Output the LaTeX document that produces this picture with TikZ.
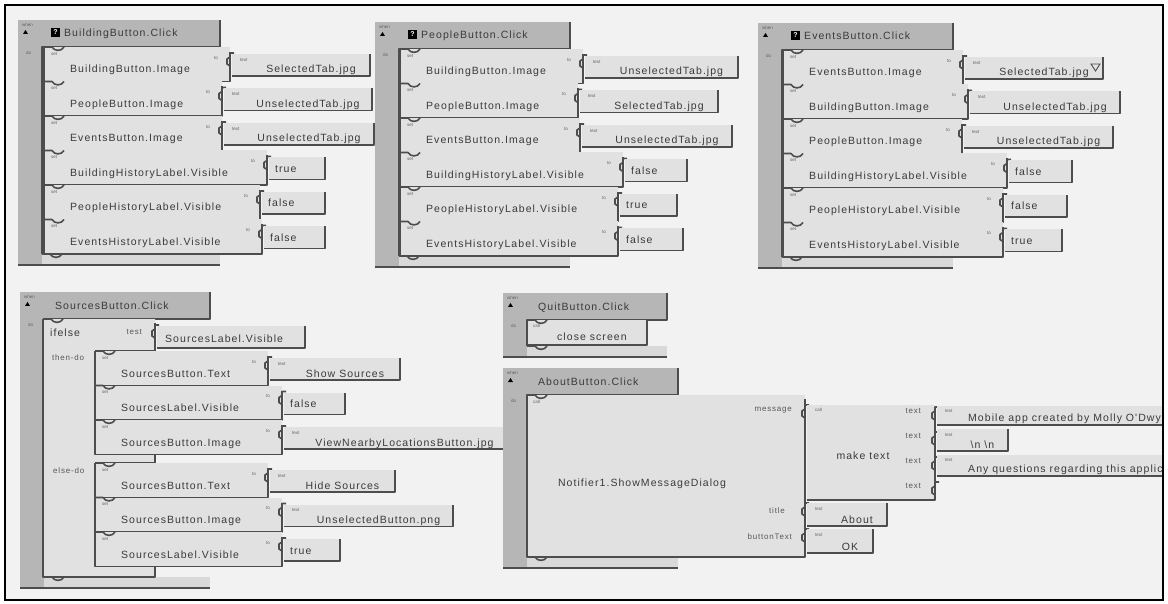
\documentclass[tikz,border=0pt]{standalone}
\usepackage{fontspec}
\setmainfont{Liberation Sans}
\newfontfamily\blockfont[LetterSpace=10]{Liberation Sans}
\definecolor{canvas}{HTML}{F2F2F2}
\definecolor{blockgrey}{HTML}{E1E1E1}
\definecolor{eventgrey}{HTML}{B6B6B6}
\definecolor{armgrey}{HTML}{D9D9D9}
\definecolor{edgegrey}{HTML}{4D4D4D}
\definecolor{inkgrey}{HTML}{3A3A3A}
\tikzset{
  lbl/.style={font=\blockfont\fontsize{10.5}{12}\selectfont,text=inkgrey,inner sep=0pt},
  small/.style={font=\blockfont\fontsize{8}{9}\selectfont,text=inkgrey!85,inner sep=0pt},
  tiny/.style={font=\fontsize{4.5}{5}\selectfont,text=inkgrey!80,inner sep=0pt},
  edge/.style={draw=edgegrey,line width=1.6pt,line join=round},
  rim/.style={draw=edgegrey,line width=2.4pt},
}
% socket bracket: x, top
\newcommand{\socket}[2]{%
  \draw[edge] ({#1+4},{#2}) -- ({#1},{#2}) -- ({#1},{#2+4}) -- ({#1-3},{#2+6})
    -- ({#1-3},{#2+11}) -- ({#1},{#2+13});}
% event block: name, x0, y0, x1, bottom, title, title offset
\newcommand{\eventblock}[7]{%
  \fill[eventgrey] ({#2},{#3}) rectangle ({#4},{#3+27});
  \fill[eventgrey] ({#2},{#3}) rectangle ({#2+24},{#5});
  \fill[armgrey] ({#2+24},{#5-11}) rectangle ({#4},{#5});
  \draw[edge] ({#4},{#3}) -- ({#4},{#3+27}) -- ({#2+24},{#3+27}) -- ({#2+24},{#5-11});
  \draw[edge] ({#2+24},{#5-11}) -- ({#2+32},{#5-11})
    .. controls ({#2+34},{#5-6.5}) and ({#2+42},{#5-6.5}) .. ({#2+44},{#5-11});
  \draw[rim] ({#2},{#5}) -- ({#4},{#5});
  \fill[black] ({#2+5},{#3+14}) -- ({#2+10},{#3+14}) -- ({#2+7.5},{#3+10}) -- cycle;
  \node[tiny,anchor=west] (#1-when) at ({#2+4},{#3+5}) {when};
  \node[tiny,anchor=west] (#1-do) at ({#2+8},{#3+33}) {do};
  \node[lbl,anchor=base west] (#1) at ({#2+#7},{#3+17}) {#6};}
% question icon: name, x0, y0
\newcommand{\qicon}[3]{%
  \fill[black] ({#2+33},{#3+8}) rectangle ({#2+42},{#3+17});
  \node[font=\bfseries\fontsize{7}{7}\selectfont,text=white,inner sep=0pt] (#1) at ({#2+37.5},{#3+12.5}) {?};}
% set statement: name, x, top, right, property
\newcommand{\setblock}[5]{%
  \fill[blockgrey] ({#2},{#3}) rectangle ({#4},{#3+34.5});
  \draw[edge] ({#2},{#3}) -- ({#2+8},{#3})
    .. controls ({#2+10},{#3+4.5}) and ({#2+18},{#3+4.5}) .. ({#2+20},{#3});
  \draw[edge] ({#2},{#3}) -- ({#2},{#3+34.5}) -- ({#4},{#3+34.5}) -- ({#4},{#3+5});
  \socket{#4}{#3+6}
  \node[tiny,anchor=west] (#1-set) at ({#2+7},{#3+7}) {set};
  \node[tiny,anchor=east] (#1-to) at ({#4-12},{#3+11}) {to};
  \node[lbl,anchor=base west] (#1) at ({#2+26},{#3+26}) {#5};}
% text value: name, x, top, right, bottom, text
\newcommand{\textval}[6]{%
  \fill[blockgrey] ({#2},{#3}) rectangle ({#4},{#5});
  \draw[edge] ({#2},{#5}) -- ({#4},{#5}) -- ({#4},{#3});
  \node[tiny,anchor=west] (#1-kw) at ({#2+8},{#3+6}) {text};
  \node[lbl,anchor=base] (#1) at ({(#2+#4+20)/2},{#5-3}) {#6};}
% logic value: name, x, top, right, bottom, text
\newcommand{\boolval}[6]{%
  \fill[blockgrey] ({#2},{#3}) rectangle ({#4},{#5});
  \draw[edge] ({#2},{#5}) -- ({#4},{#5}) -- ({#4},{#3});
  \node[lbl,anchor=base west] (#1) at ({#2+6},{(#3+#5)/2+4}) {#6};}

\begin{document}
\begin{tikzpicture}[x=1pt,y=-1pt]
\useasboundingbox (0,0) rectangle (1168,604);
\fill[white] (0,0) rectangle (1168,604);
\fill[canvas] (5,5) rectangle (1163,600);
\begin{scope}
\clip (5,5) rectangle (1163,600);
% BuildingButton.Click
\eventblock{bbclick}{18}{20}{220}{265}{BuildingButton.Click}{46}
\qicon{bbicon}{18}{20}
\setblock{bbset1}{44}{47}{230}{BuildingButton.Image}
\textval{bbval1}{232}{54}{370}{76}{SelectedTab.jpg}
\setblock{bbset2}{44}{81.5}{222}{PeopleButton.Image}
\textval{bbval2}{224}{88.5}{372}{110.5}{UnselectedTab.jpg}
\setblock{bbset3}{44}{116}{222}{EventsButton.Image}
\textval{bbval3}{224}{123}{374}{145}{UnselectedTab.jpg}
\setblock{bbset4}{44}{150.5}{267}{BuildingHistoryLabel.Visible}
\boolval{bbval4}{269}{157.5}{325}{179.5}{true}
\setblock{bbset5}{44}{185}{260}{PeopleHistoryLabel.Visible}
\boolval{bbval5}{262}{192}{325}{214}{false}
\setblock{bbset6}{44}{219.5}{262}{EventsHistoryLabel.Visible}
\boolval{bbval6}{264}{226.5}{325}{248.5}{false}
% PeopleButton.Click
\eventblock{pbclick}{375}{22}{570}{267}{PeopleButton.Click}{46}
\qicon{pbicon}{375}{22}
\setblock{pbset1}{400}{49}{583}{BuildingButton.Image}
\textval{pbval1}{585}{56}{738}{78}{UnselectedTab.jpg}
\setblock{pbset2}{400}{83.5}{578}{PeopleButton.Image}
\textval{pbval2}{580}{90.5}{718}{112.5}{SelectedTab.jpg}
\setblock{pbset3}{400}{118}{580}{EventsButton.Image}
\textval{pbval3}{582}{125}{732}{147}{UnselectedTab.jpg}
\setblock{pbset4}{400}{152.5}{623}{BuildingHistoryLabel.Visible}
\boolval{pbval4}{625}{159.5}{687}{181.5}{false}
\setblock{pbset5}{400}{187}{618}{PeopleHistoryLabel.Visible}
\boolval{pbval5}{620}{194}{677}{216}{true}
\setblock{pbset6}{400}{221.5}{618}{EventsHistoryLabel.Visible}
\boolval{pbval6}{620}{228.5}{683}{250.5}{false}
% EventsButton.Click
\eventblock{ebclick}{758}{23}{953}{268}{EventsButton.Click}{46}
\qicon{ebicon}{758}{23}
\setblock{ebset1}{783}{50}{963}{EventsButton.Image}
\textval{ebval1}{965}{57}{1103}{79}{SelectedTab.jpg}
\draw[edgegrey,line width=.9pt] (1091,64) -- (1100,64) -- (1095.5,71) -- cycle;
\setblock{ebset2}{783}{84.5}{968}{BuildingButton.Image}
\textval{ebval2}{970}{91.5}{1120}{113.5}{UnselectedTab.jpg}
\setblock{ebset3}{783}{119}{962}{PeopleButton.Image}
\textval{ebval3}{964}{126}{1113}{148}{UnselectedTab.jpg}
\setblock{ebset4}{783}{153.5}{1007}{BuildingHistoryLabel.Visible}
\boolval{ebval4}{1009}{160.5}{1072}{182.5}{false}
\setblock{ebset5}{783}{188}{1003}{PeopleHistoryLabel.Visible}
\boolval{ebval5}{1005}{195}{1067}{217}{false}
\setblock{ebset6}{783}{222.5}{1003}{EventsHistoryLabel.Visible}
\boolval{ebval6}{1005}{229.5}{1062}{251.5}{true}
% SourcesButton.Click
\eventblock{sbclick}{20}{292}{210}{588}{SourcesButton.Click}{35}
\fill[blockgrey] (43,319) -- (155,319) -- (155,351) -- (95,351) -- (95,454.5) -- (155,454.5)
  -- (155,463) -- (95,463) -- (95,566.5) -- (155,566.5) -- (155,577) -- (43,577) -- cycle;
\draw[edge] (43,319) -- (51,319) .. controls (53,323.5) and (61,323.5) .. (63,319);
\draw[edge] (43,319) -- (43,577) -- (155,577) -- (155,566.5);
\draw[edge] (155,454.5) -- (155,463) -- (95,463);
\draw[edge] (95,351) -- (155,351) -- (155,323);
\socket{155}{325}
\node[lbl,anchor=base west] (ifelse) at (50,337) {ifelse};
\node[small,anchor=east] (iftest) at (142,332) {test};
\node[small,anchor=west] (thendo) at (52,358) {then-do};
\node[small,anchor=west] (elsedo) at (53,471) {else-do};
\fill[blockgrey] (157,326) rectangle (305,348);
\draw[edge] (157,348) -- (305,348) -- (305,326);
\node[lbl,anchor=base west] (srcget) at (165,342) {SourcesLabel.Visible};
\setblock{thenset1}{95}{351}{268}{SourcesButton.Text}
\textval{thenval1}{270}{358}{400}{380}{Show Sources}
\setblock{thenset2}{95}{385.5}{282}{SourcesLabel.Visible}
\boolval{thenval2}{284}{392.5}{345}{414.5}{false}
\setblock{thenset3}{95}{420}{282}{SourcesButton.Image}
\textval{thenval3}{284}{427}{505}{449}{ViewNearbyLocationsButton.jpg}
\setblock{elseset1}{95}{463}{268}{SourcesButton.Text}
\textval{elseval1}{270}{470}{395}{492}{Hide Sources}
\setblock{elseset2}{95}{497.5}{282}{SourcesButton.Image}
\textval{elseval2}{284}{504.5}{453}{526.5}{UnselectedButton.png}
\setblock{elseset3}{95}{532}{282}{SourcesLabel.Visible}
\boolval{elseval3}{284}{539}{340}{561}{true}
% QuitButton.Click
\eventblock{qbclick}{503}{293}{667}{357}{QuitButton.Click}{35}
\fill[blockgrey] (527,320) rectangle (647,345);
\draw[edge] (527,320) -- (535,320) .. controls (537,324.5) and (545,324.5) .. (547,320);
\draw[edge] (527,320) -- (527,345) -- (647,345) -- (647,320);
\node[tiny,anchor=west] (closecall) at (533,326) {call};
\node[lbl,anchor=base west] (closescreen) at (557,340) {close screen};
% AboutButton.Click
\eventblock{abclick}{503}{368}{678}{568}{AboutButton.Click}{35}
\fill[blockgrey] (527,395) rectangle (805,557);
\draw[edge] (527,395) -- (535,395) .. controls (537,399.5) and (545,399.5) .. (547,395);
\draw[edge] (527,395) -- (527,557) -- (805,557) -- (805,399);
\socket{805}{405}
\socket{805}{503}
\socket{805}{529}
\node[tiny,anchor=west] (notcall) at (533,402) {call};
\node[lbl,anchor=base] (notifier) at (642,486) {Notifier1.ShowMessageDialog};
\node[small,anchor=east] (msglbl) at (792,410) {message};
\node[small,anchor=east] (titlelbl) at (785,511) {title};
\node[small,anchor=east] (btnlbl) at (792,537) {buttonText};
% make text
\fill[blockgrey] (807,405) rectangle (935,500);
\draw[edge] (807,500) -- (935,500) -- (935,409);
\foreach \ty/\tn in {406/mtone,431/mttwo,456/mtthree,481/mtfour} {
  \socket{935}{\ty+1}
  \node[small,anchor=east] (\tn) at (921,\ty+5) {text};
}
\node[tiny,anchor=west] (mkcall) at (815,410) {call};
\node[lbl,anchor=base] (maketext) at (863,459) {make text};
\fill[blockgrey] (937,406) rectangle (1175,425);
\draw[edge] (937,425) -- (1175,425);
\node[tiny,anchor=west] (mobilekw) at (945,411) {text};
\node[lbl,anchor=base west] (mobile) at (968,421) {Mobile app created by Molly O'Dwye};
\textval{newlines}{937}{429}{1008}{451}{\textbackslash n \textbackslash n}
\fill[blockgrey] (937,455) rectangle (1175,476);
\draw[edge] (937,476) -- (1175,476);
\node[tiny,anchor=west] (anykw) at (945,460) {text};
\node[lbl,anchor=base west] (anyq) at (968,472) {Any questions regarding this applic};
\textval{aboutval}{807}{503}{887}{526}{About}
\textval{okval}{807}{529}{873}{553}{OK}
\end{scope}
\draw[black,line width=2pt] (5,5) rectangle (1163,600);
\end{tikzpicture}
\end{document}
